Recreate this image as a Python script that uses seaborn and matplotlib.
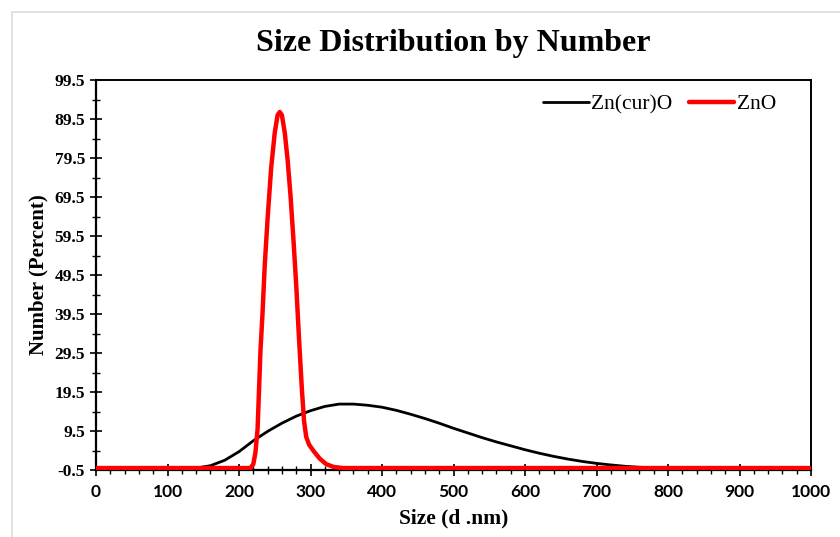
import numpy as np
import pandas as pd
import matplotlib
matplotlib.use("Agg")
import matplotlib.pyplot as plt
import seaborn as sns
from matplotlib.ticker import MultipleLocator, FixedLocator
from matplotlib.patches import Rectangle

# ---- data ----
curo_size = [0, 100, 140, 160, 180, 200, 220, 240, 260, 280, 300, 320, 340, 360,
             380, 400, 420, 440, 460, 480, 500, 520, 540, 560, 580, 600, 620,
             640, 660, 680, 700, 720, 740, 760, 780, 800, 900, 1000]
curo_num = [0, 0, 0, 0.6, 2.0, 4.2, 7.0, 9.4, 11.5, 13.3, 14.7, 15.8, 16.4, 16.4,
            16.1, 15.6, 14.8, 13.8, 12.7, 11.5, 10.2, 9.0, 7.8, 6.7, 5.7, 4.7, 3.8,
            3.0, 2.3, 1.7, 1.2, 0.8, 0.45, 0.2, 0.08, 0, 0, 0]

zno_size = [0, 100, 200, 216, 220, 223, 226, 228, 230, 233, 236, 240, 245, 250,
            254, 257, 260, 264, 268, 272, 276, 280, 284, 288, 291, 294, 298,
            305, 313, 322, 332, 345, 400, 500, 600, 700, 800, 900, 1000]
zno_num = [0, 0, 0, 0, 1.0, 4, 10, 20, 30, 40, 52, 64, 77, 86,
           90.5, 91.3, 90.5, 86, 79, 70, 59, 47, 33, 20, 12, 8, 6,
           4.2, 2.4, 1.0, 0.3, 0, 0, 0, 0, 0, 0, 0, 0]

series_names = ["Zn(cur)O", "ZnO"]
y_ticks = [-0.5, 9.5, 19.5, 29.5, 39.5, 49.5, 59.5, 69.5, 79.5, 89.5, 99.5]
x_ticks = [0, 100, 200, 300, 400, 500, 600, 700, 800, 900, 1000]

df = pd.concat([
    pd.DataFrame({"size": curo_size, "num": curo_num, "series": series_names[0]}),
    pd.DataFrame({"size": zno_size, "num": zno_num, "series": series_names[1]}),
])

sns.set_theme(style="white")
plt.rcParams["font.family"] = ["Liberation Serif", "DejaVu Serif"]
plt.rcParams["text.color"] = "black"
plt.rcParams["axes.labelcolor"] = "black"
plt.rcParams["xtick.color"] = "black"
plt.rcParams["ytick.color"] = "black"

fig = plt.figure(figsize=(8.4, 5.37), dpi=100)
ax = fig.add_axes([96 / 840, (537 - 470) / 537, (811 - 96) / 840, (470 - 80) / 537])

sns.lineplot(data=df, x="size", y="num", hue="series",
             palette={series_names[0]: "black", series_names[1]: "#ff0000"},
             linewidth=2.0, ax=ax, sort=False, estimator=None)
lines = ax.get_lines()[:2]
lines[0].set_linewidth(2.0)
lines[0].set_zorder(3)
lines[1].set_linewidth(3.2)
lines[1].set_zorder(4)

ax.set_xlim(0, 1000)
ax.set_ylim(-0.5, 99.5)
ax.xaxis.set_major_locator(FixedLocator(x_ticks))
ax.xaxis.set_minor_locator(MultipleLocator(20))
ax.yaxis.set_major_locator(FixedLocator(y_ticks))
ax.yaxis.set_minor_locator(FixedLocator([v + 5 for v in y_ticks[:-1]]))
ax.set_yticklabels([f"{v:g}" for v in y_ticks])
ax.set_xticklabels([str(v) for v in x_ticks])

for sp in ax.spines.values():
    sp.set_visible(True)
    sp.set_color("black")
    sp.set_linewidth(1.6)
for sp in ("top", "right"):
    ax.spines[sp].set_linewidth(1.4)

ax.tick_params(axis="both", which="major", direction="inout", length=8, width=1.2,
               color="black", labelcolor="black", bottom=True, left=True, pad=4)
ax.tick_params(axis="both", which="minor", direction="inout", length=6, width=1.0,
               color="black", bottom=True, left=True)
ax.tick_params(axis="x", which="major", pad=6)

for lab in ax.get_yticklabels():
    lab.set_fontfamily(["Liberation Serif"])
    lab.set_fontweight("bold")
    lab.set_fontsize(12.5)
for lab in ax.get_xticklabels():
    lab.set_fontfamily(["Lato", "DejaVu Sans"])
    lab.set_fontweight("bold")
    lab.set_fontsize(12.5)

ax.set_xlabel("Size (d .nm)", fontsize=15.5, fontweight="bold", labelpad=6, color="black")
ax.set_ylabel("Number (Percent)", fontsize=15, fontweight="bold", labelpad=4, color="black")
ax.set_title("Size Distribution by Number", fontsize=23, fontweight="bold", pad=21,
             color="black")

leg = ax.legend(handles=lines, labels=series_names, loc="upper right",
                frameon=False, fontsize=15.5, handlelength=2.1, handletextpad=0.1,
                ncol=2, columnspacing=0.8, bbox_to_anchor=(0.978, 1.013))
for t in leg.get_texts():
    t.set_color("black")

# light grey outer frame of the screenshot
fig.add_artist(Rectangle((12 / 840, -0.01), 1.0, (537 - 12) / 537 + 0.01,
                         transform=fig.transFigure, fill=False,
                         edgecolor="#dcdcdc", linewidth=1.2))

fig.savefig("out.png", dpi=100, facecolor="white")
